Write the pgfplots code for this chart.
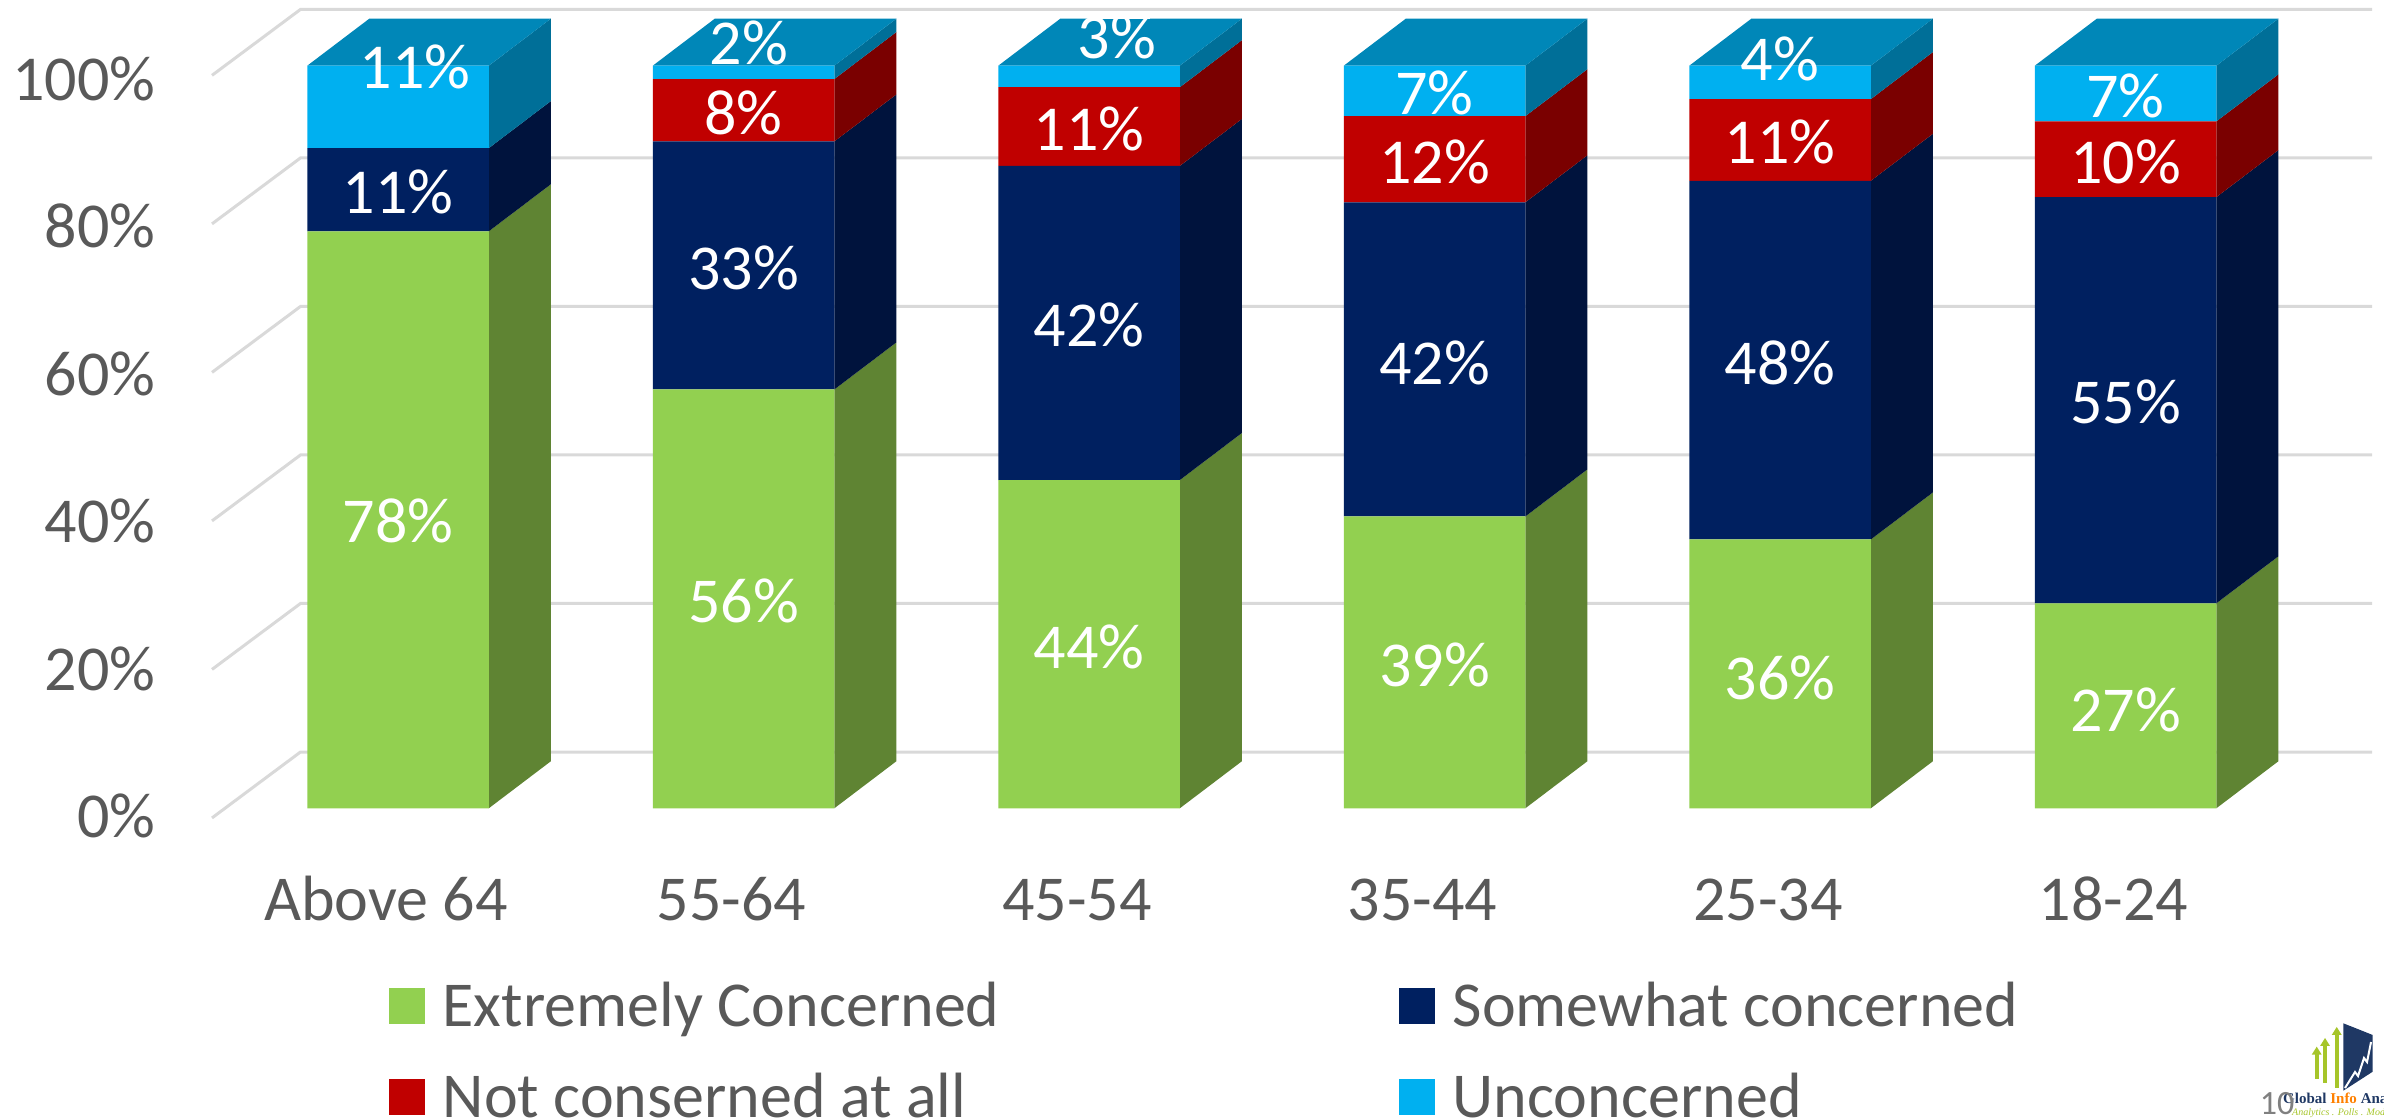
\documentclass[border=0pt]{standalone}
\usepackage{pgfplots}
\pgfplotsset{compat=1.18}
\usepackage{pgfplotstable}
\usepackage{fontspec}
\setmainfont{Carlito}
\newfontfamily\logofont{Liberation Serif}
\definecolor{cgreen}{HTML}{92D050}
\definecolor{cnavy}{HTML}{002060}
\definecolor{cred}{HTML}{C00000}
\definecolor{cblue}{HTML}{00B0F0}
\definecolor{sgreen}{HTML}{5F8433}
\definecolor{snavy}{HTML}{00133D}
\definecolor{sred}{HTML}{7A0000}
\definecolor{sblue}{HTML}{006F98}
\definecolor{tblue}{HTML}{0087B8}
\definecolor{txt}{HTML}{595959}
\definecolor{gridc}{HTML}{D9D9D9}
\pgfplotstableread{
x green navy red blue
0 77.7 11.2 0.0 11.1
1 56.4 33.4 8.4 1.8
2 44.2 42.3 10.6 2.9
3 39.3 42.3 11.6 6.8
4 36.2 48.3 11.0 4.5
5 27.6 54.7 10.2 7.5
}\bars
\pgfplotstableread{
x y l
0 38.8 78\%
0 83.1 11\%
0.05 99.9 11\%
1 28.0 56\%
1 72.9 33\%
1 93.8 8\%
1.016 103.2 2\%
2 21.9 44\%
2 65.2 42\%
2 91.6 11\%
2.08 104.0 3\%
3 19.4 39\%
3 60.1 42\%
3 87.2 12\%
3 96.4 7\%
4 17.7 36\%
4 60.1 48\%
4 89.9 11\%
4 101.1 4\%
5 13.4 27\%
5 54.8 55\%
5 87.2 10\%
5 96.1 7\%
}\labels
\newcommand{\seg}[4]{%
  \pgfmathsetmacro\xa{#1+0.2627}\pgfmathsetmacro\xb{#1+0.4422}%
  \pgfmathsetmacro\ya{#2+6.33}\pgfmathsetmacro\yb{#3+6.33}%
  \edef\temp{\noexpand\addplot[fill=#4,draw=none,forget plot] coordinates {(\xa,#2)(\xb,\ya)(\xb,\yb)(\xa,#3)} --cycle;}\temp}
\newcommand{\topf}[1]{%
  \pgfmathsetmacro\xa{#1-0.2627}\pgfmathsetmacro\xb{#1+0.2627}%
  \pgfmathsetmacro\xc{#1+0.4422}\pgfmathsetmacro\xd{#1-0.0832}%
  \edef\temp{\noexpand\addplot[fill=tblue,draw=none,forget plot] coordinates {(\xa,100)(\xb,100)(\xc,106.33)(\xd,106.33)} --cycle;}\temp}
\newcommand{\wall}[1]{%
  \pgfmathsetmacro\ya{#1-1.3}\pgfmathsetmacro\yb{#1+7.58}%
  \edef\temp{\noexpand\addplot[gridc,line width=3pt,forget plot] coordinates {(-0.5384,\ya)(-0.2823,\yb)(5.7134,\yb)};}\temp}
\pgfplotsset{base/.style={
  at={(212pt,300pt)},anchor=south west,scale only axis,
  width=2160pt,height=818pt,
  xmin=-0.5384,xmax=5.7134,ymin=-1.306,ymax=108.85,clip=false}}
\begin{document}
\begin{tikzpicture}[x=1pt,y=1pt]
\useasboundingbox (0,0) rectangle (2384,1118);
\begin{axis}[base,
  axis line style={draw=none},major tick length=0pt,
  xtick={0,...,5},xticklabels={Above 64,55-64,45-54,35-44,25-34,18-24},
  ytick={0,20,...,100},yticklabels={0\%,20\%,40\%,60\%,80\%,100\%},
  tick label style={font=\fontsize{64}{70}\selectfont,text=txt,text height=41pt,text depth=0pt},
  xticklabel style={yshift=-58pt,xshift=-12pt},
  yticklabel style={yshift={-9pt-1.06pt*\ticknum},xshift=-53pt}]
\wall{0}\wall{20}\wall{40}\wall{60}\wall{80}\wall{100}
\seg{0}{0}{77.7}{sgreen}\seg{0}{77.7}{88.9}{snavy}\seg{0}{88.9}{100}{sblue}
\seg{1}{0}{56.4}{sgreen}\seg{1}{56.4}{89.8}{snavy}\seg{1}{89.8}{98.2}{sred}\seg{1}{98.2}{100}{sblue}
\seg{2}{0}{44.2}{sgreen}\seg{2}{44.2}{86.5}{snavy}\seg{2}{86.5}{97.1}{sred}\seg{2}{97.1}{100}{sblue}
\seg{3}{0}{39.3}{sgreen}\seg{3}{39.3}{81.6}{snavy}\seg{3}{81.6}{93.2}{sred}\seg{3}{93.2}{100}{sblue}
\seg{4}{0}{36.2}{sgreen}\seg{4}{36.2}{84.5}{snavy}\seg{4}{84.5}{95.5}{sred}\seg{4}{95.5}{100}{sblue}
\seg{5}{0}{27.6}{sgreen}\seg{5}{27.6}{82.3}{snavy}\seg{5}{82.3}{92.5}{sred}\seg{5}{92.5}{100}{sblue}
\topf{0}\topf{1}\topf{2}\topf{3}\topf{4}\topf{5}
\end{axis}
\begin{axis}[base,axis lines=none,ybar stacked,bar width=0.5253,
  legend columns=2,
  legend style={draw=none,fill=none,at={(176.5pt,-168pt)},anchor=north west,inner sep=0pt,
    font=\fontsize{64}{70}\selectfont,text=txt,
    row sep=51pt,
    nodes={inner sep=0pt,text height=40pt,text depth=0pt,anchor=west}},
  legend cell align=left,
  legend image code/.code={\fill[#1,draw=none] (0pt,-18pt) rectangle (36pt,18pt);}]
\addplot[fill=cgreen,draw=none] table[x=x,y=green]{\bars};
\addplot[fill=cnavy,draw=none] table[x=x,y=navy]{\bars};
\addplot[fill=cred,draw=none] table[x=x,y=red]{\bars};
\addplot[fill=cblue,draw=none] table[x=x,y=blue]{\bars};
\legend{\hspace*{18pt}\makebox[956pt][l]{Extremely Concerned},\hspace*{18pt}Somewhat concerned,\hspace*{18pt}Not conserned at all,\hspace*{18pt}Unconcerned}
\end{axis}
\begin{axis}[base,axis lines=none]
\addplot[draw=none,mark=none,nodes near coords,point meta=explicit symbolic,
  every node near coord/.style={anchor=center,yshift=-2pt,text=white,inner sep=0pt,text height=41pt,text depth=0pt,font=\fontsize{64}{70}\selectfont}]
  table[x=x,y=y,meta=l]{\labels};
\end{axis}
% the top of the 3% label is cut off at the rear edge of the top face
\fill[white] (1090,1099) rectangle (1150,1107);
% logo and page number
\definecolor{lnavy}{HTML}{1F3864}
\definecolor{lgreen}{HTML}{A6C52A}
\fill[lnavy] (2343.3,94.7) -- (2372.7,83) -- (2372.7,46.3) -- (2343.3,27.3) -- cycle;
\draw[white,line width=2pt] (2345,30) -- (2355,46) -- (2358,42) -- (2364,60) -- (2367,56) -- (2371,76);
\foreach \xx/\yt/\yb in {2336.7/91/30,2325/80/35,2316.7/71.3/39}{
  \fill[lgreen] (\xx-2,\yb) rectangle (\xx+2,\yt-7);
  \fill[lgreen] (\xx-5,\yt-8) -- (\xx,\yt) -- (\xx+5,\yt-8) -- cycle;}
\node[anchor=base west,inner sep=0pt,font=\logofont\bfseries\fontsize{15}{16}\selectfont,text=lnavy] at (2283,14) {Global \textcolor{orange}{Info} Analysis};
\node[anchor=base west,inner sep=0pt,font=\logofont\itshape\fontsize{10}{11}\selectfont,text=lgreen] at (2292,2) {Analytics . Polls . Modelling};
\node[anchor=center,inner sep=0pt,font=\fontsize{34}{36}\selectfont,text=gray] at (2277,14) {10};
\end{tikzpicture}
\end{document}
